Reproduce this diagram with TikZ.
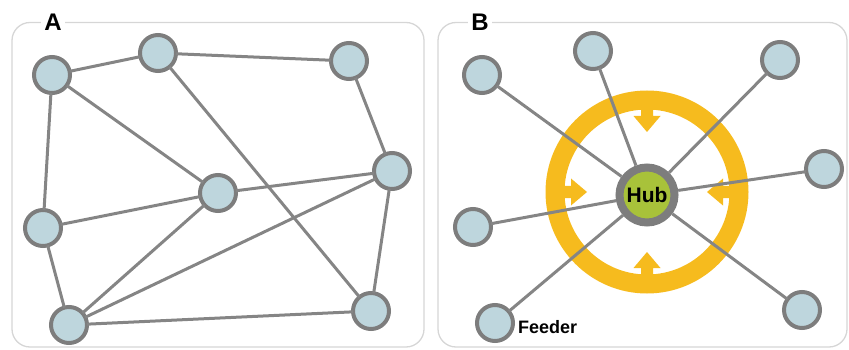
\documentclass[tikz,border=0pt]{standalone}
\usepackage{fontspec}
\setmainfont{Liberation Sans}
\usetikzlibrary{positioning}
\definecolor{nodefill}{RGB}{190,214,221}
\definecolor{nodegray}{RGB}{125,125,125}
\definecolor{edgegray}{RGB}{133,133,133}
\definecolor{framegray}{RGB}{214,214,214}
\definecolor{ringorange}{RGB}{246,187,30}
\definecolor{hubgreen}{RGB}{168,194,58}
\begin{document}
\begin{tikzpicture}[x=1pt,y=-1pt]
\tikzstyle{vertex}=[circle,line width=4pt,
inner sep=0pt,outer sep=0pt,
draw=nodegray,fill=nodefill,minimum size=36pt]
\tikzstyle{link}=[line width=3pt,draw=edgegray]
\tikzstyle{panel}=[draw=framegray,line width=1.3pt,rounded corners=18pt]
\tikzstyle{tag}=[fill=white,inner sep=3pt,font=\fontsize{24}{24}\selectfont\bfseries]
\useasboundingbox (0,0) rectangle (849,350);

% frames
\draw[panel] (12,22.5) rectangle (424,347);
\draw[panel] (438,22.5) rectangle (847,347);
\node[tag] (tagA) at (53,22.5) {A};
\node[tag] (tagB) at (480,22.5) {B};

% panel A
\node[vertex] at (52,75)	(a1) {};
\node[vertex] at (158,53)	(a2) {};
\node[vertex] at (349,61)	(a3) {};
\node[vertex] at (392,171)	(a4) {};
\node[vertex] at (218,193)	(a5) {};
\node[vertex] at (43,228)	(a6) {};
\node[vertex] at (69,325)	(a7) {};
\node[vertex] at (371,311)	(a8) {};

\path[link] (a1) edge (a2) ;
\path[link] (a2) edge (a3) ;
\path[link] (a1) edge (a6) ;
\path[link] (a1) edge (a5) ;
\path[link] (a2) edge (a8) ;
\path[link] (a3) edge (a4) ;
\path[link] (a4) edge (a5) ;
\path[link] (a4) edge (a7) ;
\path[link] (a4) edge (a8) ;
\path[link] (a5) edge (a6) ;
\path[link] (a5) edge (a7) ;
\path[link] (a6) edge (a7) ;
\path[link] (a7) edge (a8) ;

% panel B: ring with inward arrows
\draw[ringorange,line width=19pt] (647,192) circle (92);
\begin{scope}[shift={(647,192)}]
\foreach \a in {0,90,180,270}
  \fill[ringorange,rotate=\a] (-6,-84) -- (-6,-76) -- (-13.5,-76) -- (0,-60)
    -- (13.5,-76) -- (6,-76) -- (6,-84) -- cycle;
\end{scope}

\node[circle,line width=8pt,draw=nodegray,fill=hubgreen,inner sep=0pt,
minimum size=55pt,font=\fontsize{21}{21}\selectfont\bfseries] at (647,195) (hub) {Hub};
\node[vertex] at (482,75)	(b1) {};
\node[vertex] at (593,51)	(b2) {};
\node[vertex] at (780,60)	(b3) {};
\node[vertex] at (824,169)	(b4) {};
\node[vertex] at (473,227)	(b5) {};
\node[vertex] at (495,323)	(b6) {};
\node[vertex] at (802,310)	(b7) {};
\node[right=5pt of b6,yshift=-4pt,inner sep=0pt,
font=\fontsize{18}{18}\selectfont\bfseries] (feeder) {Feeder};

\foreach \b in {b1,b2,b3,b4,b5,b6,b7}
  \path[link] (hub) edge (\b) ;

\end{tikzpicture}
\end{document}
